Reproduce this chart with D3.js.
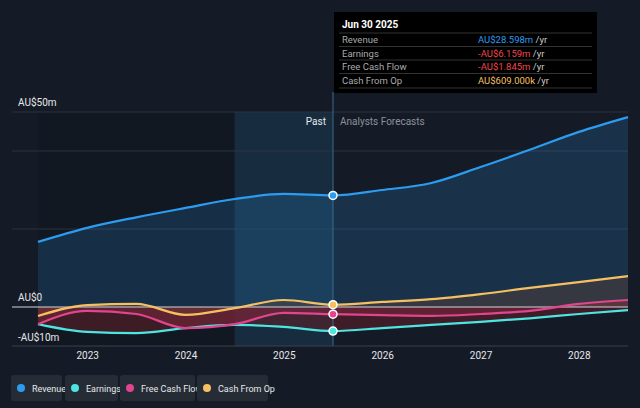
<!DOCTYPE html><html><head><meta charset="utf-8"><script src="https://cdn.jsdelivr.net/npm/d3@7"></script>
<style>body{margin:0;background:#151b26;font-family:Roboto,"Open Sans",sans-serif}</style></head><body><svg id="c" width="640" height="408"></svg>
<script>
const years=[2022.5,2023,2023.5,2024,2024.5,2025,2025.5,2026,2026.5,2027,2027.5,2028,2028.5];
const revenue=[16.7,20.3,23,25.4,27.7,29,28.6,30,31.8,35.9,40.3,44.9,48.7];
const earnings=[-4.4,-6.4,-6.7,-5.4,-4.6,-5.1,-6.16,-5.4,-4.6,-3.8,-2.9,-1.8,-0.8];
const fcf=[-4.4,-1,-1.8,-5.4,-4.4,-1.5,-1.85,-2.1,-2.3,-1.8,-1,0.8,1.8];
const cfo=[-2.3,0.5,0.8,-2,-0.3,1.8,0.6,1.3,2,3.3,4.9,6.4,7.9];
const xTicks=[2023,2024,2025,2026,2027,2028];
const names=["Revenue","Earnings","Free Cash Flow","Cash From Op"];
const colors=["#2c9cf0","#4ee5e0","#e0458f","#f5c063"];
const svg=d3.select("#c");
const x=d3.scaleLinear().domain([2022.5,2028.5]).range([38,628]);
const y=d3.scaleLinear().domain([-10,50]).range([346,112]);
const past=2025.5;
const bottom=y(-10);
svg.append("rect").attr("x",x(2022.5)).attr("y",y(50)).attr("width",x(past)-x(2022.5)).attr("height",bottom-y(50)).attr("fill","#121822");
svg.append("rect").attr("x",x(2024.5)).attr("y",y(50)).attr("width",x(past)-x(2024.5)).attr("height",bottom-y(50)).attr("fill","#1a3247").attr("opacity",0.8);
[20,40,50].forEach(v=>svg.append("line").attr("x1",12).attr("x2",628).attr("y1",y(v)).attr("y2",y(v)).attr("stroke","#2a323e").attr("stroke-width",1));
const series=[revenue,earnings,fcf,cfo];
const curve=d3.curveMonotoneX;
const area=d=>d3.area().x((v,i)=>x(years[i])).y0(y(0)).y1(v=>y(v)).curve(curve)(d);
svg.append("path").attr("d",area(revenue)).attr("fill","#2c9cf0").attr("opacity",0.18);
svg.append("path").attr("d",area(earnings)).attr("fill","#5a1f2a").attr("opacity",0.6);
svg.append("path").attr("d",area(fcf)).attr("fill","#8a2a40").attr("opacity",0.45);
svg.append("path").attr("d",area(cfo)).attr("fill","#7a4a30").attr("opacity",0.3);
svg.append("line").attr("x1",12).attr("x2",628).attr("y1",y(0)).attr("y2",y(0)).attr("stroke","#d0d4da").attr("stroke-width",1.2);
svg.append("line").attr("x1",x(past)).attr("x2",x(past)).attr("y1",92).attr("y2",bottom).attr("stroke","#3a6a90").attr("stroke-width",1);
const line=d3.line().x((v,i)=>x(years[i])).y(v=>y(v)).curve(curve);
series.forEach((s,k)=>svg.append("path").attr("d",line(s)).attr("fill","none").attr("stroke",colors[k]).attr("stroke-width",2.2));
const pi=years.indexOf(past);
series.forEach((s,k)=>svg.append("circle").attr("cx",x(past)).attr("cy",y(s[pi])).attr("r",4).attr("fill",colors[k]).attr("stroke","#fff").attr("stroke-width",1.5));
svg.append("line").attr("x1",12).attr("x2",628).attr("y1",bottom).attr("y2",bottom).attr("stroke","#3a414c");
const xa=svg.append("g").attr("transform",`translate(0,${bottom})`).call(d3.axisBottom(x).tickValues(xTicks).tickFormat(d3.format("d")).tickSize(0).tickPadding(6));
xa.select(".domain").remove();
xa.selectAll("text").attr("fill","#e6e8ea").attr("font-size",10).attr("font-family","Roboto");
svg.append("text").attr("x",18).attr("y",106).text("AU$50m").attr("fill","#e6e8ea").attr("font-size",10);
svg.append("text").attr("x",18).attr("y",301).text("AU$0").attr("fill","#e6e8ea").attr("font-size",10);
svg.append("text").attr("x",18).attr("y",341).text("-AU$10m").attr("fill","#e6e8ea").attr("font-size",10);
svg.append("text").attr("x",x(past)-7).attr("y",125).attr("text-anchor","end").text("Past").attr("fill","#e6e8ea").attr("font-size",10);
svg.append("text").attr("x",x(past)+7).attr("y",125).text("Analysts Forecasts").attr("fill","#8a929c").attr("font-size",10);
const tt=svg.append("g").attr("transform","translate(334,12)");
tt.append("rect").attr("width",263).attr("height",81).attr("fill","#000");
tt.append("text").attr("x",8).attr("y",16).text("Jun 30 2025").attr("fill","#fff").attr("font-size",10).attr("font-weight","bold");
const vals=["AU$28.598m","-AU$6.159m","-AU$1.845m","AU$609.000k"];
const vcol=["#2c9cf0","#f2454d","#f2454d","#f5c063"];
names.forEach((n,i)=>{const yy=31+i*13.5;
tt.append("line").attr("x1",5).attr("x2",258).attr("y1",yy-10).attr("y2",yy-10).attr("stroke","#333");
tt.append("text").attr("x",8).attr("y",yy).text(n).attr("fill","#aaa").attr("font-size",9.5);
const t=tt.append("text").attr("x",144).attr("y",yy).attr("font-size",9.5);
t.append("tspan").text(vals[i]).attr("fill",vcol[i]);t.append("tspan").text(" /yr").attr("fill","#ccc");});
tt.append("line").attr("x1",5).attr("x2",258).attr("y1",76).attr("y2",76).attr("stroke","#333");
const lxs=[11,65,120,197],lws=[51,53,75,71];
names.forEach((n,i)=>{const g=svg.append("g").attr("transform",`translate(${lxs[i]},388)`);
g.append("rect").attr("width",lws[i]).attr("height",26).attr("y",-13).attr("rx",3).attr("fill","#262c36");
g.append("circle").attr("cx",10).attr("r",4).attr("fill",colors[i]);
g.append("text").attr("x",21).attr("y",3.5).text(n).attr("fill","#e6e8ea").attr("font-size",9);
});
</script></body></html>
